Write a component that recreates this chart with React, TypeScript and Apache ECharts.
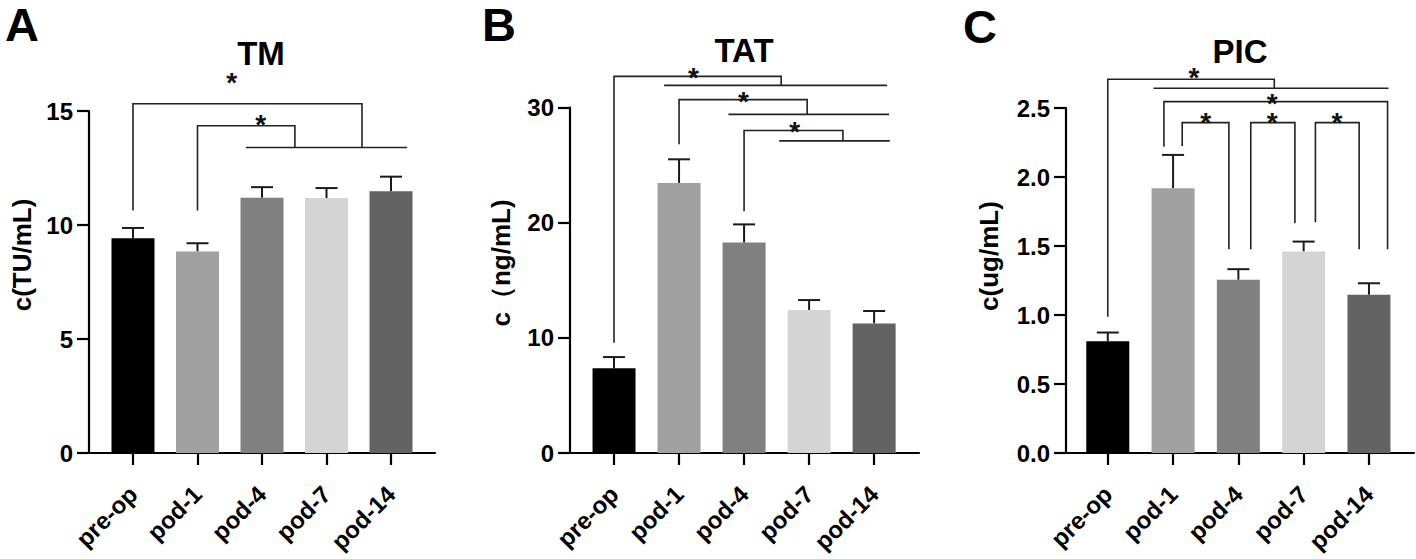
import React, { useEffect, useRef } from 'react';
import * as echarts from 'echarts';

const categories = ['pre-op', 'pod-1', 'pod-4', 'pod-7', 'pod-14'];
const barColors = ['#000000', '#a0a0a0', '#808080', '#d4d4d4', '#636363'];

// Panel A: TM
const tmMean = [9.42, 8.84, 11.2, 11.18, 11.48];
const tmErr = [0.45, 0.36, 0.46, 0.44, 0.64];
const tmBrackets = [
  [[0, 10.64], [0, 15.32], [3.55, 15.32], [3.55, 13.4]],
  [[1, 10.64], [1, 14.35], [2.51, 14.35], [2.51, 13.4]],
  [[1.75, 13.4], [4.25, 13.4]],
];
const tmStars = [[1.53, 16.55], [1.98, 14.73]];
const tmTicks = [0, 15, 5];

// Panel B: TAT
const tatMean = [7.35, 23.45, 18.27, 12.42, 11.25];
const tatErr = [0.98, 2.05, 1.58, 0.86, 1.08];
const tatBrackets = [
  [[0, 9.58], [0, 32.7], [2.57, 32.7], [2.57, 31.92]],
  [[0.77, 31.92], [4.2, 31.92]],
  [[1, 26.8], [1, 30.68], [2.97, 30.68], [2.97, 29.4]],
  [[1.76, 29.4], [4.23, 29.4]],
  [[2, 21.0], [2, 28.0], [3.52, 28.0], [3.52, 27.1]],
  [[2.54, 27.1], [4.24, 27.1]],
];
const tatStars = [[1.22, 33.2], [1.99, 31.1], [2.78, 28.5]];
const tatTicks = [0, 30, 10];

// Panel C: PIC
const picMean = [0.81, 1.918, 1.255, 1.46, 1.147];
const picErr = [0.063, 0.242, 0.077, 0.072, 0.083];
const picBrackets = [
  [[0, 0.988], [0, 2.708], [2.55, 2.708], [2.55, 2.643]],
  [[0.7, 2.643], [4.3, 2.643]],
  [[0.86, 2.22], [0.86, 2.546], [4.285, 2.546], [4.285, 1.476]],
  [[1.14, 2.225], [1.14, 2.394], [1.855, 2.394], [1.855, 1.476]],
  [[2.19, 1.476], [2.19, 2.394], [2.866, 2.394], [2.866, 1.664]],
  [[3.18, 1.672], [3.18, 2.394], [3.85, 2.394], [3.85, 1.476]],
];
const picStars = [[1.32, 2.77], [2.52, 2.58], [1.5, 2.444], [2.52, 2.444], [3.51, 2.444]];
const picTicks = [0, 2.5, 0.5];

const FONT = "Arial, 'Liberation Sans', Helvetica, sans-serif";

type Panel = {
  letter: string;
  title: string;
  yName: string;
  mean: number[];
  err: number[];
  brackets: number[][][];
  stars: number[][];
  ticks: number[];
  decimals: number;
  grid: { left: number; top: number; width: number; height: number };
  xRange: [number, number];
  letterPos: [number, number];
  titlePos: [number, number];
  yNamePos: [number, number];
};

const panels: Panel[] = [
  {
    letter: 'A', title: 'TM', yName: 'c(TU/mL)', mean: tmMean, err: tmErr,
    brackets: tmBrackets, stars: tmStars, ticks: tmTicks, decimals: 0,
    grid: { left: 89, top: 111, width: 346, height: 342 },
    xRange: [-0.682, 4.682], letterPos: [22, 24], titlePos: [261, 53], yNamePos: [22, 255],
  },
  {
    letter: 'B', title: 'TAT', yName: 'c（ng/mL)', mean: tatMean, err: tatErr,
    brackets: tatBrackets, stars: tatStars, ticks: tatTicks, decimals: 0,
    grid: { left: 570, top: 107.5, width: 349, height: 345.5 },
    xRange: [-0.677, 4.69], letterPos: [499, 24], titlePos: [744, 50], yNamePos: [501, 263],
  },
  {
    letter: 'C', title: 'PIC', yName: 'c(ug/mL)', mean: picMean, err: picErr,
    brackets: picBrackets, stars: picStars, ticks: picTicks, decimals: 1,
    grid: { left: 1066, top: 108, width: 348, height: 345 },
    xRange: [-0.64, 4.69], letterPos: [980, 26], titlePos: [1240, 51], yNamePos: [989, 256],
  },
];

function buildOption() {
  const grid: any[] = [];
  const xAxis: any[] = [];
  const yAxis: any[] = [];
  const series: any[] = [];
  const graphic: any[] = [];
  const idxs = categories.map((_, i) => i);

  panels.forEach((p, k) => {
    grid.push({ ...p.grid, containLabel: false });
    xAxis.push({
      type: 'value', gridIndex: k, min: p.xRange[0], max: p.xRange[1],
      splitLine: { show: false },
      axisLine: { show: true, onZero: false, lineStyle: { color: '#000', width: 2.2 } },
      axisTick: { show: true, customValues: idxs, length: 12, lineStyle: { color: '#000', width: 2.2 } },
      axisLabel: {
        show: true, customValues: idxs, rotate: 45, margin: 37,
        formatter: (v: number) => categories[Math.round(v)] ?? '',
        color: '#000', fontFamily: FONT, fontWeight: 'bold', fontSize: 24,
      },
    });
    yAxis.push({
      type: 'value', gridIndex: k, min: p.ticks[0], max: p.ticks[1], interval: p.ticks[2],
      splitLine: { show: false },
      axisLine: { show: true, onZero: false, lineStyle: { color: '#000', width: 2.2 } },
      axisTick: { show: true, length: 12, lineStyle: { color: '#000', width: 2.2 } },
      axisLabel: {
        margin: 16, color: '#000', fontFamily: FONT, fontWeight: 'bold', fontSize: 24,
        formatter: (v: number) => v.toFixed(p.decimals),
      },
    });

    series.push({
      type: 'bar', xAxisIndex: k, yAxisIndex: k, barWidth: 43,
      data: p.mean.map((m, i) => ({ value: [i, m], itemStyle: { color: barColors[i] } })),
      silent: true,
    });

    series.push({
      type: 'custom', xAxisIndex: k, yAxisIndex: k, clip: false, silent: true,
      data: p.mean.map((m, i) => [i, m + p.err[i]]),
      renderItem: (params: any, api: any) => {
        const i = params.dataIndex;
        const base = api.coord([i, p.mean[i]]);
        const top = api.coord([i, p.mean[i] + p.err[i]]);
        const st = { stroke: '#1a1a1a', lineWidth: 2 };
        return {
          type: 'group',
          children: [
            { type: 'line', shape: { x1: base[0], y1: base[1], x2: top[0], y2: top[1] }, style: st },
            { type: 'line', shape: { x1: top[0] - 11, y1: top[1], x2: top[0] + 11, y2: top[1] }, style: st },
          ],
        };
      },
    });

    series.push({
      type: 'custom', xAxisIndex: k, yAxisIndex: k, clip: false, silent: true,
      data: p.brackets.map((b) => [b[0][0], b[0][1]]),
      renderItem: (params: any, api: any) => {
        const pts = p.brackets[params.dataIndex].map((pt) => api.coord(pt));
        return {
          type: 'polyline',
          shape: { points: pts },
          style: { stroke: '#222', lineWidth: 1.6, fill: null },
        };
      },
    });

    series.push({
      type: 'custom', xAxisIndex: k, yAxisIndex: k, clip: false, silent: true,
      data: p.stars.map((s) => [s[0], s[1]]),
      renderItem: (params: any, api: any) => {
        const c = api.coord(p.stars[params.dataIndex]);
        return {
          type: 'text',
          x: c[0], y: c[1] + 7,
          style: {
            text: '*', fill: '#111', align: 'center', verticalAlign: 'middle',
            fontFamily: FONT, fontSize: 28, fontWeight: 'bold', lineHeight: 14,
          },
        };
      },
    });

    graphic.push({
      type: 'text', x: p.letterPos[0], y: p.letterPos[1],
      style: { text: p.letter, fill: '#000', align: 'center', verticalAlign: 'middle', fontFamily: FONT, fontSize: 47, fontWeight: 'bold', lineHeight: 44 },
    });
    graphic.push({
      type: 'text', x: p.titlePos[0], y: p.titlePos[1],
      style: { text: p.title, fill: '#000', align: 'center', verticalAlign: 'middle', fontFamily: FONT, fontSize: 33, fontWeight: 'bold' },
    });
    graphic.push({
      type: 'text', x: p.yNamePos[0], y: p.yNamePos[1], rotation: Math.PI / 2,
      style: { text: p.yName, fill: '#000', align: 'center', verticalAlign: 'middle', fontFamily: FONT, fontSize: 26, fontWeight: 'bold' },
    });
  });

  return { animation: false, backgroundColor: '#fff', grid, xAxis, yAxis, series, graphic };
}

export default function App() {
  const ref = useRef<HTMLDivElement>(null);
  useEffect(() => {
    document.body.style.margin = '0';
    if (!ref.current) return;
    const chart = echarts.init(ref.current, undefined, { renderer: 'svg' });
    chart.setOption(buildOption() as any);
    return () => chart.dispose();
  }, []);
  return <div ref={ref} style={{ width: 1416, height: 559 }} />;
}
